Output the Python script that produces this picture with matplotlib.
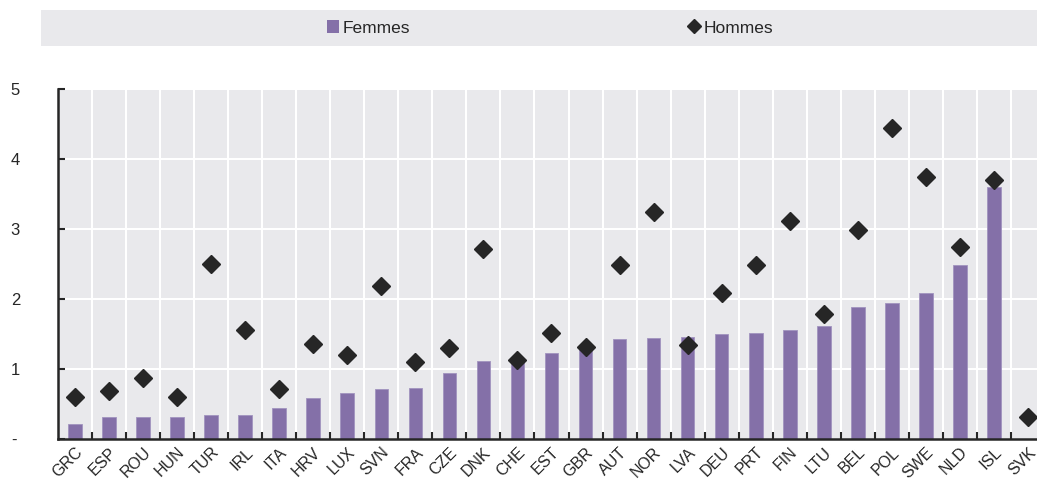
import matplotlib
matplotlib.use("Agg")
from matplotlib import pyplot as plt
from matplotlib.patches import Rectangle
from matplotlib.lines import Line2D
from matplotlib.patches import Patch
import numpy as np

plt.rcParams['font.family'] = ['Liberation Sans', 'DejaVu Sans']

countries = ["GRC", "ESP", "ROU", "HUN", "TUR", "IRL", "ITA", "HRV", "LUX", "SVN",
             "FRA", "CZE", "DNK", "CHE", "EST", "GBR", "AUT", "NOR", "LVA", "DEU",
             "PRT", "FIN", "LTU", "BEL", "POL", "SWE", "NLD", "ISL", "SVK"]
femmes = [0.21, 0.31, 0.32, 0.32, 0.34, 0.34, 0.44, 0.58, 0.66, 0.72,
          0.73, 0.94, 1.12, 1.10, 1.23, 1.32, 1.43, 1.45, 1.46, 1.50,
          1.51, 1.56, 1.62, 1.88, 1.95, 2.08, 2.49, 3.60, 0.0]
hommes = [0.60, 0.69, 0.87, 0.60, 2.50, 1.56, 0.71, 1.36, 1.20, 2.18,
          1.10, 1.30, 2.71, 1.13, 1.51, 1.32, 2.49, 3.24, 1.34, 2.09,
          2.48, 3.11, 1.79, 2.99, 4.45, 3.74, 2.75, 3.70, 0.31]
yticks = [0, 1, 2, 3, 4, 5]
ytick_labels = ["-", "1", "2", "3", "4", "5"]

bar_color = "#8470a8"
bg_color = "#e9e9ec"
dark = "#262626"

W, H = 1037, 480
fig = plt.figure(figsize=(W / 100, H / 100), dpi=100)

# legend band
fig.patches.append(Rectangle((41 / W, 1 - 46 / H), 1 - 41 / W, 36 / H,
                             transform=fig.transFigure, facecolor=bg_color,
                             edgecolor="none", zorder=0))

ax = fig.add_axes([58 / W, 41 / H, (1045 - 58) / W, (439 - 89) / H])
ax.set_facecolor(bg_color)

x = np.arange(len(countries))
ax.bar(x, femmes, width=0.4, color=bar_color, edgecolor="#a193bf",
       linewidth=0.6, zorder=2, label="Femmes")
ax.plot(x, hommes, linestyle="none", marker="D", markersize=9,
        color=dark, zorder=3, label="Hommes")

ax.set_xlim(-0.5, len(countries) - 0.5)
ax.set_ylim(0, 5)

# white grid at category boundaries and integer values
for b in np.arange(-0.5, len(countries), 1.0)[1:]:
    ax.axvline(b, color="white", linewidth=1.5, zorder=1)
for v in yticks[1:]:
    ax.axhline(v, color="white", linewidth=1.5, zorder=1)

ax.set_xticks(x)
ax.set_xticklabels(countries, rotation=45, ha="right", rotation_mode="anchor",
                   fontsize=11.5, color=dark)
ax.tick_params(axis="x", length=0, pad=4)
ax.set_xticks(np.arange(-0.5, len(countries), 1.0)[1:], minor=True)
ax.tick_params(axis="x", which="minor", direction="in", length=5, width=1.5,
               color=dark)

ax.set_yticks(yticks)
ax.set_yticklabels(ytick_labels, fontsize=12, color=dark, ha="left")
ax.tick_params(axis="y", direction="in", length=5, width=1.5, color=dark,
               pad=34)

for s in ["top", "right"]:
    ax.spines[s].set_visible(False)
for s in ["left", "bottom"]:
    ax.spines[s].set_color(dark)
    ax.spines[s].set_linewidth(1.8)
    ax.spines[s].set_zorder(4)

handles = [Patch(facecolor=bar_color, edgecolor="none"),
           Line2D([], [], linestyle="none", marker="D", markersize=7, color=dark)]
fig.legend(handles, ["Femmes", "Hommes"], ncol=2, frameon=False,
           loc="center", bbox_to_anchor=(550 / W, 1 - 28 / H),
           fontsize=12.5, handlelength=0.7, handleheight=0.7,
           handletextpad=0.2, columnspacing=16.0, labelcolor=dark)

fig.savefig("out.png", dpi=100)
